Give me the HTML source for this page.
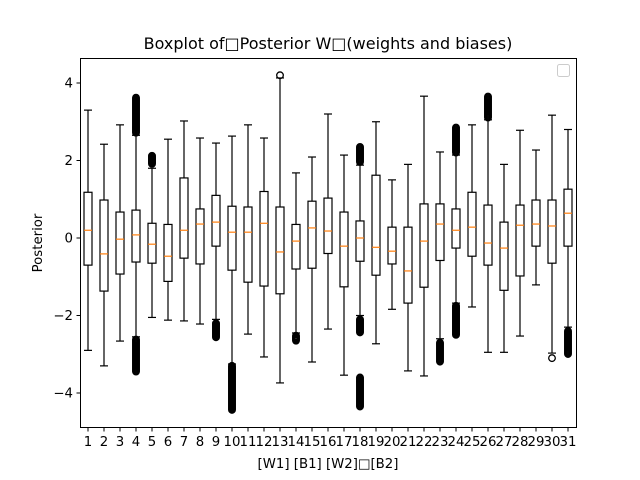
<!DOCTYPE html>
<html><head><meta charset="utf-8"><style>
body{margin:0;background:#fff}
svg{display:block;font-family:"DejaVu Sans","Liberation Sans",sans-serif}
</style></head><body>
<svg id="chart" width="640" height="480" viewBox="0 0 640 480" xmlns="http://www.w3.org/2000/svg">
<rect width="640" height="480" fill="#fff"/>
<text x="328" y="49" font-size="16" text-anchor="middle" fill="#000">Boxplot of□Posterior W□(weights and biases)</text>
<g id="plot"></g>
<rect x="80.5" y="58.5" width="496" height="369" fill="none" stroke="#000" stroke-width="1"/>
<rect x="557.5" y="64.5" width="12" height="12" rx="2" fill="#fff" stroke="#ccc"/>
<text transform="translate(42,243) rotate(-90)" font-size="13.3" text-anchor="middle">Posterior</text>
<text x="328" y="468" font-size="13.3" text-anchor="middle">[W1] [B1] [W2]□[B2]</text>
</svg>
<script>
const categories = ["1","2","3","4","5","6","7","8","9","10","11","12","13","14","15","16","17","18","19","20","21","22","23","24","25","26","27","28","29","30","31"];
const whiskerLow = [-2.9,-3.3,-2.66,-2.55,-2.05,-2.12,-2.14,-2.22,-2.1,-3.25,-2.48,-3.07,-3.74,-2.45,-3.2,-2.35,-3.54,-2.0,-2.73,-1.84,-3.43,-3.56,-2.6,-1.68,-1.78,-2.95,-2.95,-2.53,-1.21,-2.97,-2.3];
const q1 = [-0.7,-1.37,-0.93,-0.62,-0.65,-1.12,-0.52,-0.67,-0.21,-0.83,-1.14,-1.24,-1.44,-0.8,-0.78,-0.4,-1.26,-0.6,-0.96,-0.67,-1.68,-1.27,-0.58,-0.26,-0.47,-0.7,-1.35,-0.98,-0.21,-0.65,-0.21];
const medians = [0.2,-0.41,-0.03,0.08,-0.16,-0.47,0.2,0.36,0.41,0.15,0.15,0.38,-0.36,-0.08,0.26,0.18,-0.21,0.0,-0.24,-0.34,-0.85,-0.08,0.36,0.2,0.28,-0.13,-0.26,0.33,0.36,0.31,0.64];
const q3 = [1.18,0.98,0.67,0.72,0.38,0.35,1.55,0.75,1.1,0.82,0.8,1.2,0.8,0.35,0.95,1.03,0.67,0.44,1.62,0.28,0.28,0.88,0.88,0.75,1.18,0.85,0.41,0.85,0.98,0.98,1.26];
const whiskerHigh = [3.3,2.42,2.92,2.65,1.8,2.55,3.02,2.58,2.45,2.63,2.92,2.58,4.13,1.68,2.09,3.2,2.14,1.88,3.0,1.5,1.9,3.66,2.22,2.14,2.92,3.05,1.9,2.78,2.27,3.17,2.8];
// outlier ranges: [category index, from, to]
const outlierRanges = [[3,2.7,3.62],[3,-2.62,-3.46],[4,1.9,2.12],[8,-2.2,-2.58],[9,-3.3,-4.45],[12,4.2,4.2],[13,-2.52,-2.65],[17,1.95,2.35],[17,-2.1,-2.45],[17,-3.6,-4.35],[22,-2.7,-3.2],[23,2.2,2.85],[23,-1.75,-2.5],[25,3.1,3.65],[29,-3.1,-3.1],[30,-2.4,-3.0]];
const yTicks = [-4,-2,0,2,4];

const NS="http://www.w3.org/2000/svg";
const plot=document.getElementById('plot');
const xS=i=>88+16*i;
const yS=v=>238-38.75*v;
function mk(tag,attrs){const e=document.createElementNS(NS,tag);for(const k in attrs)e.setAttribute(k,attrs[k]);plot.appendChild(e);return e;}
yTicks.forEach(t=>{
  const tk=mk('line',{x1:76.5,x2:80.5,y1:yS(t),y2:yS(t),stroke:'#000'});
  
  
  const tx=mk('text',{x:73,y:yS(t)+4.5,'font-size':13.3,'text-anchor':'end'});
  tx.textContent=(t<0?'\u2212':'')+Math.abs(t);
  
  
});
categories.forEach((c,i)=>{
  const x=xS(i);
  const tk=mk('line',{x1:x,x2:x,y1:427.5,y2:431.5,stroke:'#000'});
  
  
  const tx=mk('text',{x:x,y:446,'font-size':13.3,'text-anchor':'middle'});
  tx.textContent=c;
  
  
  const w1=mk('line',{x1:x,x2:x,y1:yS(q1[i]),y2:yS(whiskerLow[i]),stroke:'#000','stroke-width':1.2});
  
  
  const w2=mk('line',{x1:x,x2:x,y1:yS(q3[i]),y2:yS(whiskerHigh[i]),stroke:'#000','stroke-width':1.2});
  
  
  [whiskerLow[i],whiskerHigh[i]].forEach(v=>{
    const cp=mk('line',{x1:x-4,x2:x+4,y1:yS(v),y2:yS(v),stroke:'#000','stroke-width':1.2});
    
    
  });
  const b=mk('rect',{x:x-4,y:yS(q3[i]),width:8,height:yS(q1[i])-yS(q3[i]),fill:'none',stroke:'#000','stroke-width':1.2});
  
  
  const m=mk('line',{x1:x-4,x2:x+4,y1:yS(medians[i]),y2:yS(medians[i]),stroke:'#ff7f0e','stroke-width':1.2});
  
  
});
outlierRanges.forEach(r=>{
  const x=xS(r[0]);const a=yS(r[1]),b=yS(r[2]);
  const lo=Math.min(a,b),hi=Math.max(a,b);
  for(let y=lo;y<=hi+0.01;y+=1){
    const o=mk('circle',{cx:x,cy:y,r:3.3,fill:'none',stroke:'#000','stroke-width':1.3});
    
    
  }
});
</script>
</body></html>
